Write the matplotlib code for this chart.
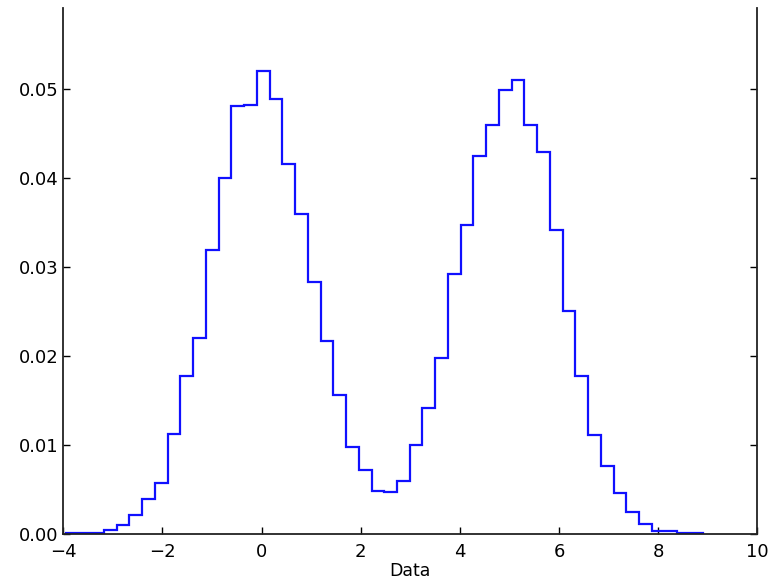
import numpy as np
import matplotlib
matplotlib.use("Agg")
import matplotlib.pyplot as plt

# histogram of the bimodal data: 50 bins between data min and max
data_min = -3.95
data_max = 8.90
n_bins = 50
fractions = [
    0.0001, 0.0001, 0.0002, 0.0005, 0.0010, 0.0022, 0.0040, 0.0058, 0.0112, 0.0177,
    0.0220, 0.0319, 0.0400, 0.0480, 0.0481, 0.0520, 0.0488, 0.0415, 0.0359, 0.0283,
    0.0217, 0.0156, 0.0098, 0.0072, 0.0049, 0.0047, 0.0060, 0.0100, 0.0142, 0.0198,
    0.0292, 0.0347, 0.0424, 0.0459, 0.0498, 0.0510, 0.0459, 0.0429, 0.0341, 0.0251,
    0.0177, 0.0111, 0.0077, 0.0046, 0.0025, 0.0012, 0.0004, 0.0004, 0.0001, 0.0001,
]
x_ticks = [-4, -2, 0, 2, 4, 6, 8, 10]
y_ticks = [0.00, 0.01, 0.02, 0.03, 0.04, 0.05]


def main():
    edges = np.linspace(data_min, data_max, n_bins + 1)

    fig = plt.figure(figsize=(7.69, 5.80), dpi=100)
    ax = fig.add_axes([0.0823, 0.0788, 0.9025, 0.9069])

    ax.hist(edges[:-1], bins=edges, weights=fractions, histtype='step',
            color='#1010ff', linewidth=1.6)

    ax.set_xlim(-4, 10)
    ax.set_ylim(0, 0.059)
    ax.set_xticks(x_ticks)
    ax.set_yticks(y_ticks)
    ax.set_yticklabels(['%.2f' % v for v in y_ticks])
    ax.spines['top'].set_visible(False)
    for side in ['left', 'right', 'bottom']:
        ax.spines[side].set_color('#222222')
        ax.spines[side].set_linewidth(1.3)
    ax.tick_params(direction='in', length=5, width=1, labelsize=13,
                   right=True, top=False)
    ax.tick_params(axis='x', pad=6)
    ax.tick_params(axis='y', pad=3.5)
    ax.set_xlabel('Data', fontsize=12.5, labelpad=1)

    fig.savefig('out.png', dpi=100, facecolor='white')


if __name__ == '__main__':
    main()
